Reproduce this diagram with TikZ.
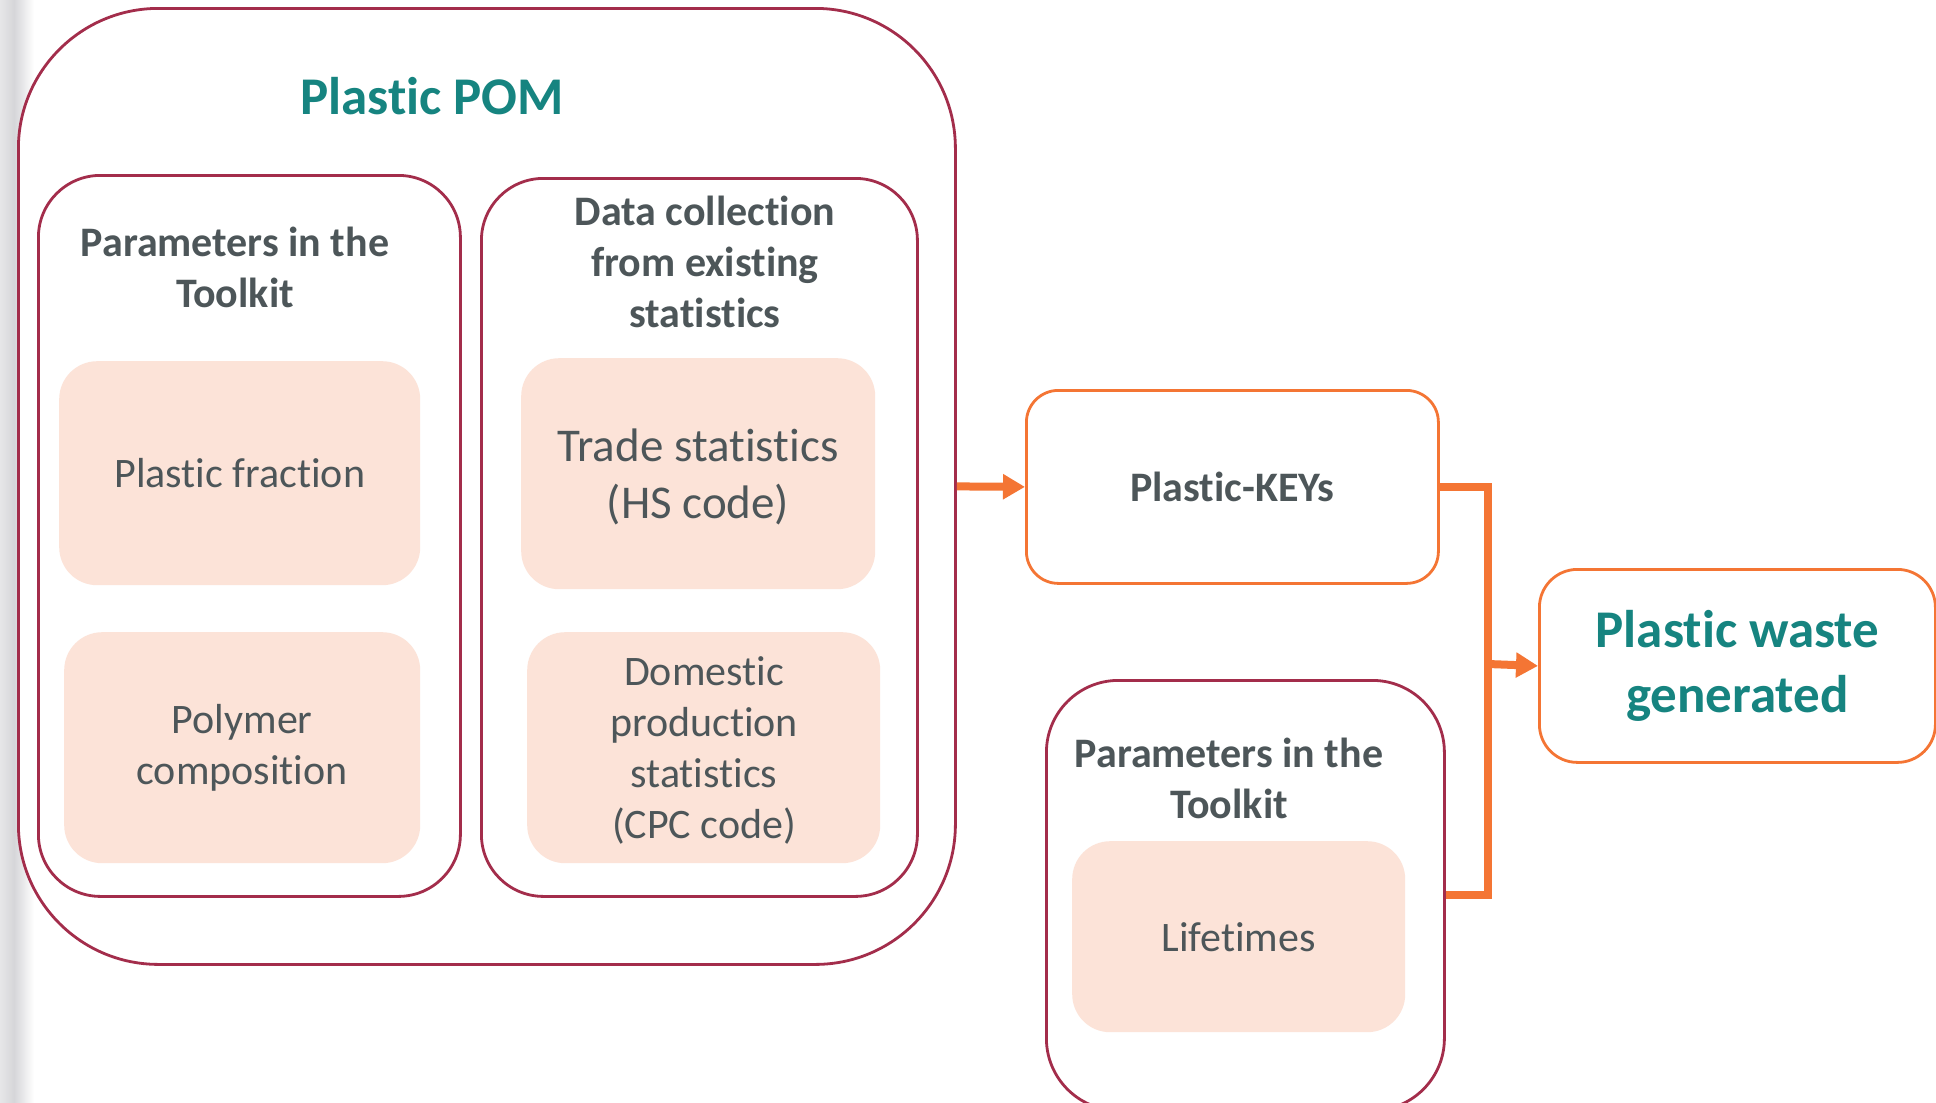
\documentclass[tikz,border=0pt]{standalone}
\usepackage{fontspec}
\setmainfont{Carlito}[Ligatures={NoCommon,NoContextual,NoRare}, Contextuals={NoAlternate}]
\usetikzlibrary{arrows.meta}
\definecolor{pomred}{RGB}{163,45,75}
\definecolor{pinkfill}{RGB}{252,227,216}
\definecolor{txtgray}{RGB}{77,86,89}
\definecolor{tealc}{RGB}{22,132,128}
\definecolor{orangec}{RGB}{244,117,52}
\definecolor{stripgray}{RGB}{214,214,217}
\newcommand\hdrfont{\fontsize{42}{51}\selectfont\bfseries}
\newcommand\bodyfont{\fontsize{42}{51}\selectfont}
\newcommand\bigbody{\fontsize{47}{57}\selectfont}
\newcommand\titlefont{\fontsize{53}{65}\selectfont\bfseries}
\begin{document}
\begin{tikzpicture}[x=1pt,y=-1pt,
  redframe/.style={draw=pomred, line width=2.8pt, fill=white, anchor=north west, inner sep=0pt},
  orframe/.style={draw=orangec, line width=2.8pt, fill=white, anchor=north west, inner sep=0pt, text=txtgray, align=center},
  pinkbox/.style={fill=pinkfill, rounded corners=38pt, anchor=north west, inner sep=0pt, text=txtgray, align=center},
  hdr/.style={text=txtgray, align=center, font=\hdrfont, inner sep=0pt},
  body/.style={text=txtgray, align=center, inner sep=0pt},
  conn/.style={draw=orangec, line width=8pt},
  arr/.style={conn, -{Triangle[length=22pt,width=24pt]}}]
\useasboundingbox (0,0) rectangle (1936,1103);
\fill[white] (0,0) rectangle (1936,1103);
\shade[left color=stripgray!60, right color=stripgray] (0,0) rectangle (14,1103);
\shade[left color=stripgray, right color=white] (14,0) rectangle (34,1103);

% Plastic POM group
\node[redframe, rounded corners=140pt, minimum width=937pt, minimum height=956pt] (pom) at (17,7) {};
\node[text=tealc, font=\titlefont, inner sep=0pt] (title) at (432,96) {Plastic POM};

\node[redframe, rounded corners=62pt, minimum width=422pt, minimum height=721pt] (left) at (37,174) {};
\node[hdr] (lefthdr) at (235,267) {Parameters in the\\Toolkit};
\node[pinkbox, minimum width=361pt, minimum height=224pt, font=\bodyfont] (frac) at (59,361) {Plastic fraction};
\node[pinkbox, minimum width=356pt, minimum height=231pt, font=\bodyfont] (poly) at (64,632) {Polymer\\composition};

\node[redframe, rounded corners=62pt, minimum width=436pt, minimum height=718pt] (mid) at (480,177) {};
\node[hdr] (midhdr) at (705,262) {Data collection\\from existing\\statistics};
\node[pinkbox, minimum width=354pt, minimum height=231pt] (trade) at (521,358) {};
\node[body, font=\bigbody] (tradetxt) at (698,477) {Trade statistics\\(HS code)};
\node[pinkbox, minimum width=353pt, minimum height=231pt] (dom) at (527,632) {};
\node[body, font=\bodyfont] (domtxt) at (704,750) {Domestic\\production\\statistics\\(CPC code)};

% Plastic-KEYs
\node[orframe, rounded corners=32pt, minimum width=412pt, minimum height=193pt, font=\hdrfont] (keys) at (1025,389) {Plastic-KEYs};

% Lifetimes group
\node[redframe, rounded corners=72pt, minimum width=398pt, minimum height=430pt] (life) at (1045,679) {};
\node[hdr] (lifehdr) at (1229,778) {Parameters in the\\Toolkit};
\node[pinkbox, minimum width=333pt, minimum height=191pt, font=\bodyfont] (lifet) at (1072,841) {Lifetimes};

% Plastic waste generated
\node[orframe, rounded corners=38pt, minimum width=396pt, minimum height=193pt, font=\titlefont, text=tealc] (waste) at (1538,568) {Plastic waste\\generated};

% connectors
\coordinate (j) at (1488,664);
\draw[arr] (pom.east) -- (keys.west);
\draw[conn] (keys.east) -| (j) |- (life.east);
\draw[arr] (j) -- (waste.west);
\end{tikzpicture}
\end{document}
